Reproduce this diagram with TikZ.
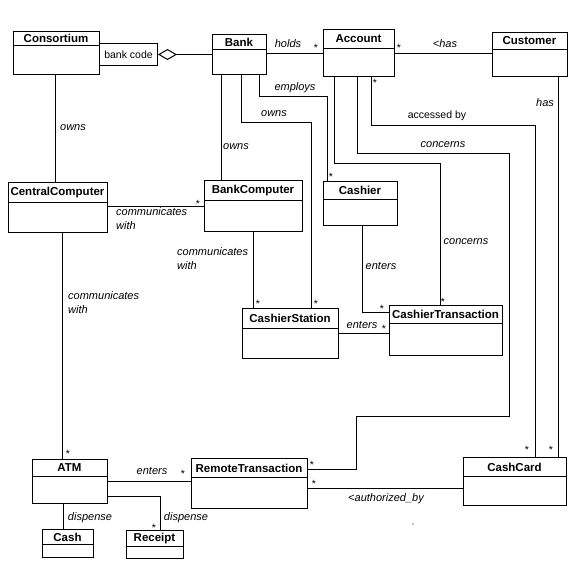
\documentclass[tikz,border=0pt]{standalone}
\usepackage{fontspec}
\setmainfont{Liberation Sans}
\usetikzlibrary{arrows.meta}

\tikzset{
    classbox/.style={draw,line width=1pt,inner sep=0pt},
    classname/.style={font=\fontsize{11.5}{13}\selectfont\bfseries,inner sep=0pt},
    role/.style={font=\fontsize{11}{14}\selectfont\itshape,inner sep=0pt},
    plainrole/.style={font=\fontsize{10.5}{14}\selectfont,inner sep=0pt},
    mult/.style={font=\fontsize{10.5}{12}\selectfont,inner sep=0pt},
    assoc/.style={line width=1pt}
}
% name, x1, y1, x2, y2, header line, title
\newcommand{\umlclass}[7]{
    \node[classbox,minimum width={#4-#2},minimum height={#5-#3},anchor=north west] (#1) at (#2,#3) {};
    \draw[line width=1pt] (#2,#6) -- (#4,#6);
    \node[classname] (#1-title) at ({(#2+#4)/2},{(#3+#6)/2+0.5}) {#7};
}

\begin{document}
\begin{tikzpicture}[x=1pt,y=-1pt]
            \useasboundingbox (0,0) rectangle (576,565);
            \umlclass{consortium}{13}{31}{99}{74}{45}{Consortium}
            \umlclass{bank}{212}{34}{266}{74}{49}{Bank}
            \umlclass{account}{323}{29}{394}{76}{48}{Account}
            \umlclass{customer}{492}{32}{567}{76}{49}{Customer}
            \umlclass{central}{8}{182}{107}{232}{202}{CentralComputer}
            \umlclass{bankcomp}{204}{180}{302}{231}{200}{BankComputer}
            \umlclass{cashier}{323}{181}{397}{225}{199}{Cashier}
            \umlclass{cstation}{242}{308}{338}{358}{328}{CashierStation}
            \umlclass{ctrans}{389}{305}{502}{355}{323}{CashierTransaction}
            \umlclass{atm}{32}{459}{107}{503}{476}{ATM}
            \umlclass{rtrans}{191}{458}{307}{508}{477}{RemoteTransaction}
            \umlclass{cashcard}{463}{457}{566}{505}{476}{CashCard}
            \umlclass{cash}{42}{529}{93}{557}{544}{Cash}
            \umlclass{receipt}{126}{530}{183}{558}{546}{Receipt}
            % qualified aggregation
            \node[classbox,plainrole,minimum width=58,minimum height=22,anchor=north west] (bankcode) at (99,43) {bank code};
            \draw[assoc,{Diamond[open,length=19pt,width=11pt]}-] (bankcode.east) -- (bank.west |- bankcode.east);
            % associations
            \draw[assoc] (bank.east |- account.west) -- (account.west);
            \draw[assoc] (account.east) -- (customer.west |- account.east);
            \draw[assoc] (558,0 |- customer.south) -- (558,0 |- cashcard.north);
            \draw[assoc] (371,0 |- account.south) |- (535,125) -- (535,0 |- cashcard.north);
            \draw[assoc] (357,0 |- account.south) |- (509,153) |- (356,416) |- (rtrans.east |- 0,469);
            \draw[assoc] (334,0 |- account.south) |- (440,163) -- (440,0 |- ctrans.north);
            \draw[assoc] (259,0 |- bank.south) |- (327,96) -- (327,0 |- cashier.north);
            \draw[assoc] (241,0 |- bank.south) |- (311,122) -- (311,0 |- cstation.north);
            \draw[assoc] (221,0 |- bank.south) -- (221,0 |- bankcomp.north);
            \draw[assoc] (55,0 |- consortium.south) -- (55,0 |- central.north);
            \draw[assoc] (central.east |- 0,206) -- (bankcomp.west |- 0,206);
            \draw[assoc] (253,0 |- bankcomp.south) -- (253,0 |- cstation.north);
            \draw[assoc] (362,0 |- cashier.south) |- (ctrans.west |- 0,312);
            \draw[assoc] (cstation.east |- 0,333) -- (ctrans.west |- 0,333);
            \draw[assoc] (62,0 |- central.south) -- (62,0 |- atm.north);
            \draw[assoc] (atm.east |- 0,481) -- (rtrans.west |- 0,481);
            \draw[assoc] (atm.east |- 0,496) -| (160,0 |- receipt.north);
            \draw[assoc] (63,0 |- atm.south) -- (63,0 |- cash.north);
            \draw[assoc] (rtrans.east |- 0,488) -- (cashcard.west |- 0,488);
            % role names
            \node[role] (holds) at (288,44) {holds};
            \node[role] (hasleft) at (445,44) {<has};
            \node[role] (employs) at (295,88) {employs};
            \node[role] (ownsstation) at (274,114) {owns};
            \node[role] (ownscomp) at (236,147) {owns};
            \node[role] (ownscentral) at (73,128) {owns};
            \node[role] (hascard) at (545,103) {has};
            \node[plainrole] (accessed) at (437,116) {accessed by};
            \node[role] (concernsrt) at (443,145) {concerns};
            \node[role] (concernsct) at (466,242) {concerns};
            \node[role] (entersct) at (381,266) {enters};
            \node[role] (entersst) at (362,325) {enters};
            \node[role] (entersrt) at (152,471) {enters};
            \node[role] (dispcash) at (90,518) {dispense};
            \node[role] (disprec) at (186,518) {dispense};
            \node[role] (authorized) at (386,499) {<authorized\_by};
            \node[role,align=left,anchor=north west] (commbank) at (116,207) {communicates\\with};
            \node[role,align=left,anchor=north west] (commstation) at (177,247) {communicates\\with};
            \node[role,align=left,anchor=north west] (commatm) at (68,291) {communicates\\with};
            % multiplicities
            \foreach \x/\y in {316/48,399/48,375/83,331/177,198/204,258/304,316/304,
                               382/309,443/302,384/329,68/454,183/474,154/528,
                               312/465,314/484,527/450,551/450}{
                \node[mult] at (\x,\y) {*};
            }
            \fill (413,524) circle (0.6);
        \end{tikzpicture}
\end{document}
